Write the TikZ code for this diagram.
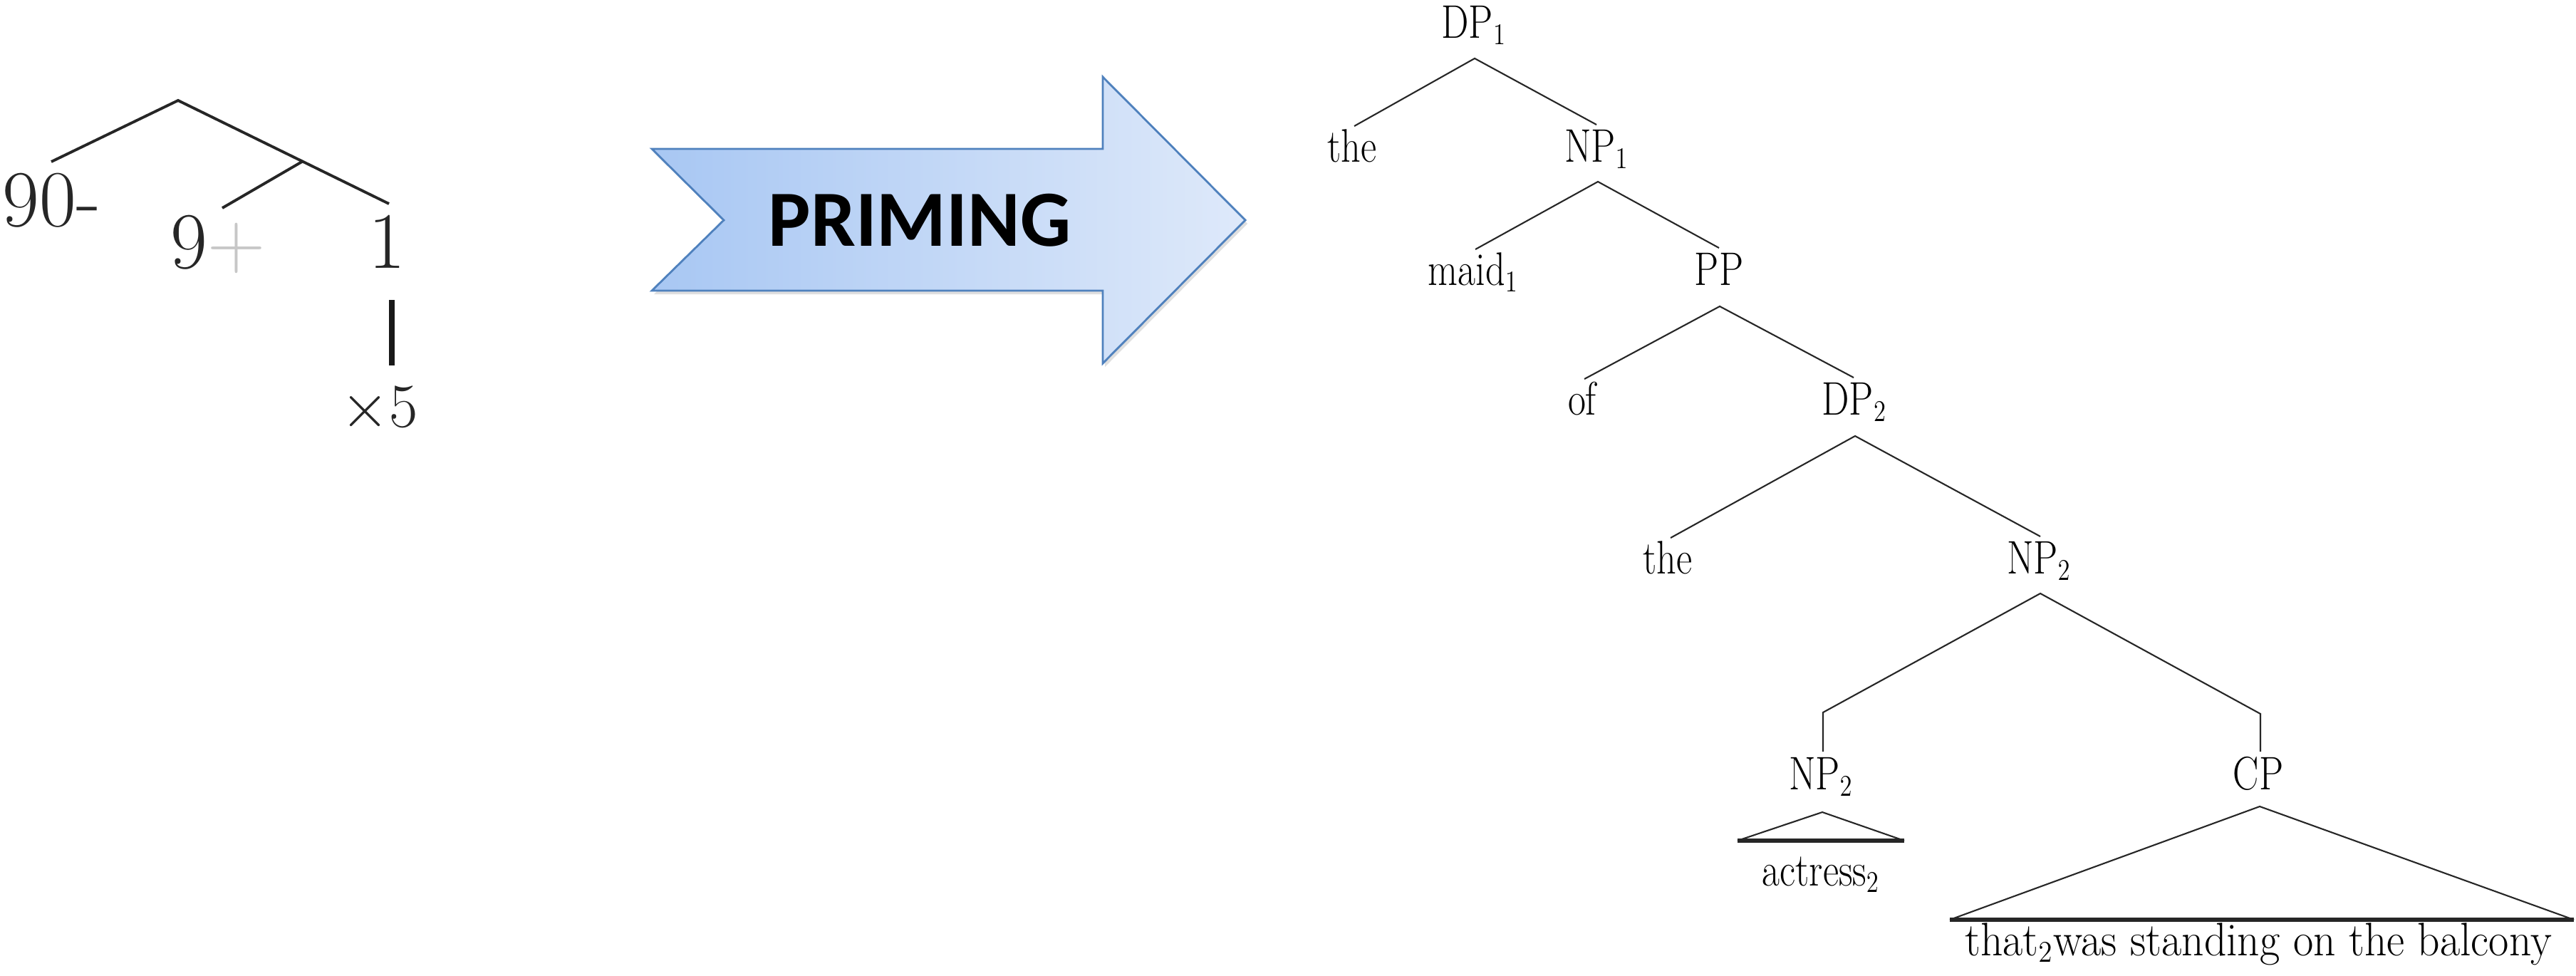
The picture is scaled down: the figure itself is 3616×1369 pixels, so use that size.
\documentclass[tikz,border=0pt]{standalone}
\usepackage{fontspec}
\usepackage{graphicx}
\usetikzlibrary{calc}
\newfontfamily\calib{Carlito}
\newcommand\sqz[1]{\scalebox{0.82}[1]{#1}}
\definecolor{arrowborder}{RGB}{79,129,189}
\definecolor{arrowleft}{RGB}{168,199,243}
\definecolor{arrowright}{RGB}{222,233,250}
\begin{document}
\begin{tikzpicture}[x=0.01cm,y=-0.01cm,
  tline/.style={line width=1.1pt, black!85},
  tthick/.style={line width=2.3pt, black!90},
  lnum/.style={inner sep=0, font=\fontsize{32}{36}\selectfont, text=black!85},
  syn/.style={inner sep=0, anchor=base, font=\fontsize{18.8}{20}\selectfont},
  sline/.style={line width=0.6pt, black!85},
  sbase/.style={line width=1.6pt, black!85}]
\useasboundingbox (0,0) rectangle (3616,1369);

% ---------- left tree ----------
\coordinate (lapex) at (250,141);
\coordinate (lleft) at (72,227);
\coordinate (lright) at (546,286);
\coordinate (linner) at ($(lapex)!0.59!(lright)$);
\coordinate (linnerend) at (312,292);
\coordinate (vtop) at (550,421);
\coordinate (vbot) at (550,513);
\node[lnum, anchor=base west] (n90) at (3,317) {90-};
\node[lnum, anchor=base west] (n9) at (239,376) {9{\color{black!22}+}};
\node[lnum, anchor=base] (n1) at (543,376) {1};
\node[lnum, anchor=base west] (nx5) at (478,599) {$\times5$};
\draw[tline] (lleft) -- (lapex) -- (lright);
\draw[tline] (linner) -- (linnerend);
\draw[tthick] (vtop) -- (vbot);

% ---------- arrow ----------
\fill[black!25, opacity=0.5] (918,214) -- (1551,214) -- (1551,113) -- (1751,314) -- (1551,515) -- (1551,413) -- (918,413) -- (1019,314) -- cycle;
\path[left color=arrowleft, right color=arrowright, draw=arrowborder, line width=0.8pt]
  (915,209) -- (1548,209) -- (1548,108) -- (1748,309) -- (1548,510) -- (1548,408) -- (915,408) -- (1016,309) -- cycle;
\node[inner sep=0, font=\calib\bfseries\fontsize{31.8}{34}\selectfont] (prim) at (1291,309) {PRIMING};

% ---------- right tree ----------
\node[syn] (dp1) at (2069,53) {\sqz{DP$_1$}};
\node[syn] (the1) at (1898,227) {\sqz{the}};
\node[syn] (np1) at (2241,227) {\sqz{NP$_1$}};
\node[syn] (maid) at (2068,400) {\sqz{maid$_1$}};
\node[syn] (pp) at (2413,400) {\sqz{PP}};
\node[syn] (of) at (2221,582) {\sqz{of}};
\node[syn] (dp2) at (2603,582) {\sqz{DP$_2$}};
\node[syn] (the2) at (2341,805) {\sqz{the}};
\node[syn] (np2) at (2862,805) {\sqz{NP$_2$}};
\node[syn] (np2b) at (2556,1108) {\sqz{NP$_2$}};
\node[syn] (cp) at (3170,1108) {\sqz{CP}};
\node[syn] (actress) at (2556,1243) {\sqz{actress$_2$}};
\node[syn] (sent) at (3170,1341) {\scalebox{0.93}[1]{that$_2$was standing on the balcony}};

\coordinate (dp1a) at (2070,82);
\coordinate (dp1l) at (1901,177);
\coordinate (dp1r) at (2241,175);
\coordinate (np1a) at (2243,255);
\coordinate (np1l) at (2071,350);
\coordinate (np1r) at (2413,348);
\coordinate (ppa) at (2414,430);
\coordinate (ppl) at (2224,532);
\coordinate (ppr) at (2602,530);
\coordinate (dp2a) at (2604,612);
\coordinate (dp2l) at (2345,755);
\coordinate (dp2r) at (2864,753);
\coordinate (np2a) at (2864,833);
\coordinate (np2l) at (2559,1000);
\coordinate (np2lb) at (2559,1055);
\coordinate (np2r) at (3173,1002);
\coordinate (np2rb) at (3173,1055);
\coordinate (ta) at (2558,1140);
\coordinate (tl) at (2439,1180);
\coordinate (tr) at (2673,1180);
\coordinate (ca) at (3172,1132);
\coordinate (cl) at (2737,1291);
\coordinate (cr) at (3613,1291);

\draw[sline] (dp1l) -- (dp1a) -- (dp1r);
\draw[sline] (np1l) -- (np1a) -- (np1r);
\draw[sline] (ppl) -- (ppa) -- (ppr);
\draw[sline] (dp2l) -- (dp2a) -- (dp2r);
\draw[sline] (np2lb) -- (np2l) -- (np2a) -- (np2r) -- (np2rb);
\draw[sline] (tl) -- (ta) -- (tr);
\draw[sbase] (tl) -- (tr);
\draw[sline] (cl) -- (ca) -- (cr);
\draw[sbase] (cl) -- (cr);
\end{tikzpicture}
\end{document}
